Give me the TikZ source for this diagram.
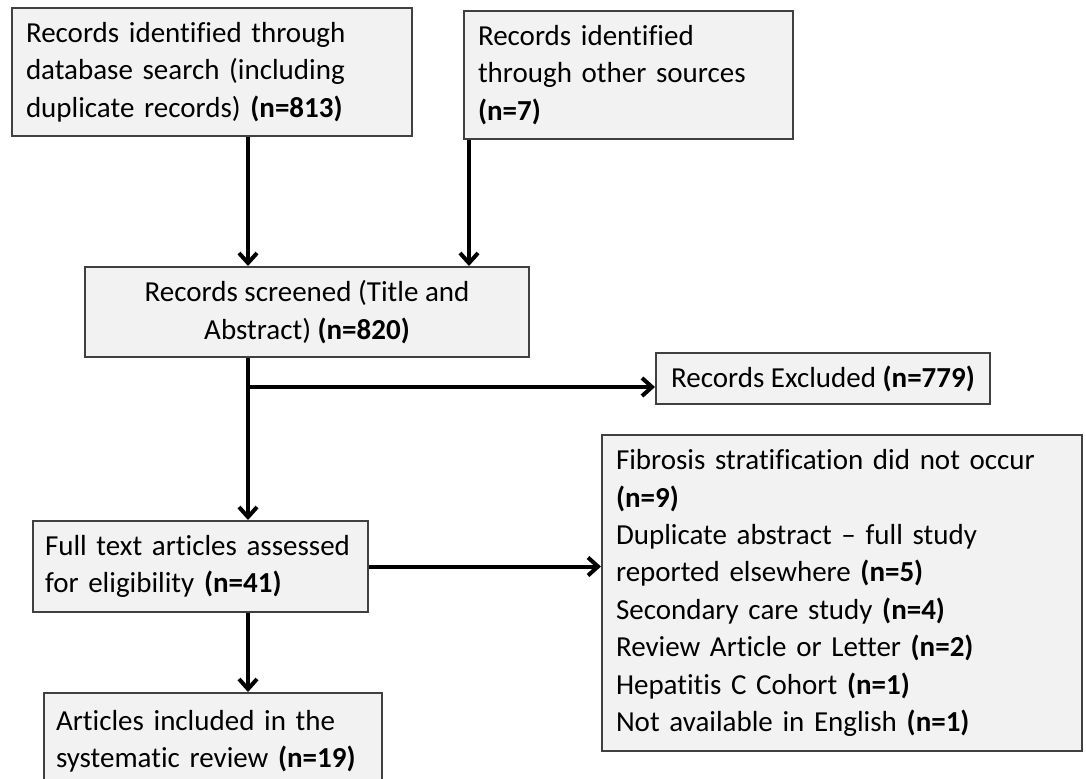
\documentclass[tikz,border=0pt]{standalone}
\usepackage{fontspec}
\setmainfont{Carlito}[Ligatures=NoCommon]
\usetikzlibrary{arrows.meta,calc,positioning}
\definecolor{boxgray}{RGB}{242,242,242}
\definecolor{edgegray}{RGB}{64,64,64}
\tikzset{
  record/.style={
    draw=edgegray,
    fill=boxgray,
    line width=1pt,
    anchor=north west,
    inner xsep=7pt,
    inner ysep=0pt,
    font=\fontsize{14.5}{18.7}\selectfont
  },
  recleft/.style={
    record,
    align=left
  },
  reccenter/.style={
    record,
    align=center
  },
  arrow/.style={
    -{Straight Barb[length=5pt,width=9pt]},
    line width=2pt,
    black
  }
}

\begin{document}
\begin{tikzpicture}[x=0.5pt,y=0.5pt]
\useasboundingbox (0,0) rectangle (1086,-778);
\node[recleft,minimum width=200pt,minimum height=64pt,text width=186pt] (db) at (11,-7)
  {Records identified through\\database search (including\\duplicate records) \textbf{(n=813)}};
\node[recleft,minimum width=164.5pt,minimum height=64pt,text width=150.5pt] (other) at (463,-10)
  {Records identified\\through other sources\\\textbf{(n=7)}};
\node[reccenter,minimum width=222pt,minimum height=45pt] (screen) at (84,-266)
  {Records screened (Title and\\Abstract) \textbf{(n=820)}};
\node[reccenter,minimum width=167pt,minimum height=25.5pt] (excl) at (655,-352)
  {Records Excluded \textbf{(n=779)}};
\node[recleft,inner xsep=6pt,minimum width=167.5pt,minimum height=45.5pt,text width=155.5pt] (full) at (32,-520)
  {Full text articles assessed\\for eligibility \textbf{(n=41)}};
\node[recleft,minimum width=240pt,minimum height=158pt,text width=226pt] (reasons) at (601,-434)
  {Fibrosis stratification did not occur\\\textbf{(n=9)}\\Duplicate abstract -- full study\\reported elsewhere \textbf{(n=5)}\\Secondary care study \textbf{(n=4)}\\Review Article or Letter \textbf{(n=2)}\\Hepatitis C Cohort \textbf{(n=1)}\\Not available in English \textbf{(n=1)}};
\node[recleft,inner xsep=6pt,minimum width=169pt,minimum height=48pt,text width=157pt] (incl) at (43,-692)
  {Articles included in the\\systematic review \textbf{(n=19)}};
% main line and branches
\coordinate (spine) at (248,0);
\coordinate (side) at (469,0);
\coordinate (split) at (248,-387);
\draw[arrow] (db.south -| spine) -- (screen.north -| spine);
\draw[arrow] (other.south -| side) -- (screen.north -| side);
\draw[arrow] (screen.south -| spine) -- (full.north -| spine);
\draw[arrow] (split) -- (split -| excl.west);
\draw[arrow] (full.east) -- (full.east -| reasons.west);
\draw[arrow] (full.south -| spine) -- (incl.north -| spine);
\end{tikzpicture}
\end{document}
